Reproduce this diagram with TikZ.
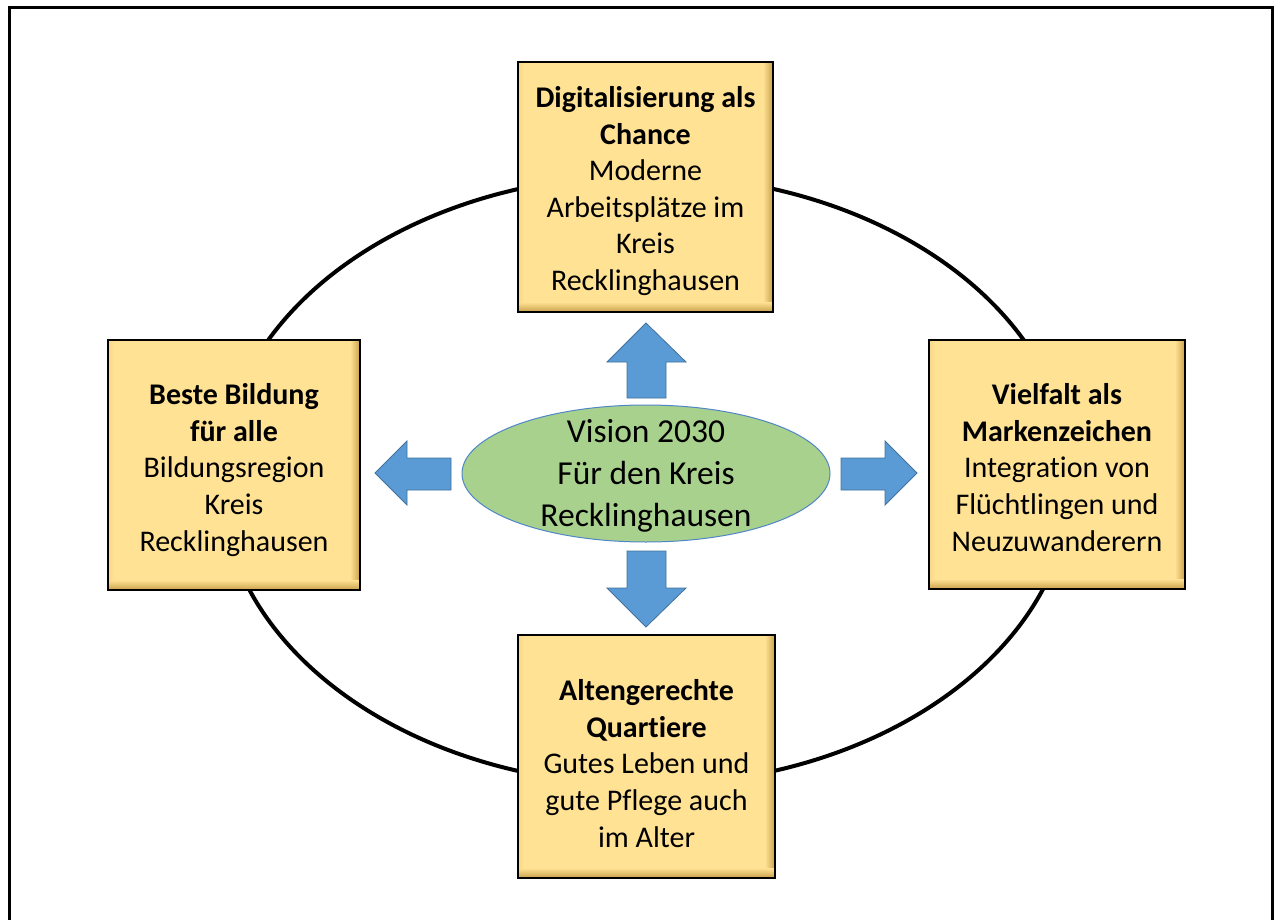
\documentclass[tikz,border=0pt]{standalone}
\usepackage{fontspec}
\setmainfont{Carlito}[RawFeature={-liga;-clig;-dlig}]
\definecolor{boxfill}{HTML}{FFE294}
\definecolor{boxshade}{HTML}{C9A04A}
\definecolor{arrowfill}{HTML}{5B9BD5}
\definecolor{arrowline}{HTML}{41719C}
\definecolor{ellfill}{HTML}{A9D18E}
\definecolor{ellline}{HTML}{4F86C6}
\tikzset{
  goalbox/.style={fill=boxfill, inner sep=0pt, align=center,
    font=\fontsize{30}{36.6}\selectfont},
  blockarrow/.style={fill=arrowfill, draw=arrowline, line width=0.8pt, line join=miter},
  visiontext/.style={align=center, inner sep=0pt, font=\fontsize{33.5}{42}\selectfont}
}
\newcommand{\goal}[7]{% name, x1, y1, x2, y2, text shift, text
  \path[goalbox] (#2,#3) rectangle (#4,#5);
  \shade[left color=boxfill, right color=boxshade] (#4-10,#3) rectangle (#4,#5);
  \shade[top color=boxfill, bottom color=boxshade] (#2,#5-10) rectangle (#4,#5);
  \shade[right color=boxfill, left color=boxfill!85!boxshade] (#2,#3) rectangle (#2+6,#5-10);
  \draw[line width=1.4pt] (#2,#3) rectangle (#4,#5);
  \node[goalbox, fill=none] (#1) at ({(#2+#4)/2},{(#3+#5)/2+#6}) {#7};
}
\begin{document}
\begin{tikzpicture}[x=1pt,y=-1pt]
\useasboundingbox (0,0) rectangle (1274,920);
\begin{scope}
  \clip (0,0) rectangle (1274,920);
  \draw[line width=3pt] (9,8) rectangle (1272,940);
\end{scope}
% big ring
\draw[line width=4pt] (646,480) ellipse [x radius=425, y radius=305];
% goal boxes
\goal{digital}{518}{62}{773}{312}{4}{\textbf{Digitalisierung als}\\\textbf{Chance}\\Moderne\\Arbeitsplätze im\\Kreis\\Recklinghausen}
\goal{bildung}{108}{340}{360}{590}{5}{\textbf{Beste Bildung}\\\textbf{für alle}\\Bildungsregion\\Kreis\\Recklinghausen}
\goal{vielfalt}{929}{340}{1185}{589}{3}{\textbf{Vielfalt als}\\\textbf{Markenzeichen}\\Integration von\\Flüchtlingen und\\Neuzuwanderern}
\goal{alten}{518}{635}{775}{878}{7}{\textbf{Altengerechte}\\\textbf{Quartiere}\\Gutes Leben und\\gute Pflege auch\\im Alter}
% central ellipse
\draw[fill=ellfill, draw=ellline, line width=1pt] (646,473.5) ellipse [x radius=184, y radius=68.5];
\node[visiontext] (vision) at (646,476) {Vision 2030\\Für den Kreis\\Recklinghausen};
% block arrows
\draw[blockarrow] (627,398) -- (627,362) -- (607,362) -- (646,323) -- (686,362) -- (666,362) -- (666,398) -- cycle;
\draw[blockarrow] (627,551) -- (666,551) -- (666,588) -- (686,588) -- (646,627) -- (607,588) -- (627,588) -- cycle;
\draw[blockarrow] (451,458) -- (407,458) -- (407,441) -- (375,473) -- (407,505) -- (407,490) -- (451,490) -- cycle;
\draw[blockarrow] (841,458) -- (885,458) -- (885,441) -- (917,473) -- (885,505) -- (885,490) -- (841,490) -- cycle;
\end{tikzpicture}
\end{document}
